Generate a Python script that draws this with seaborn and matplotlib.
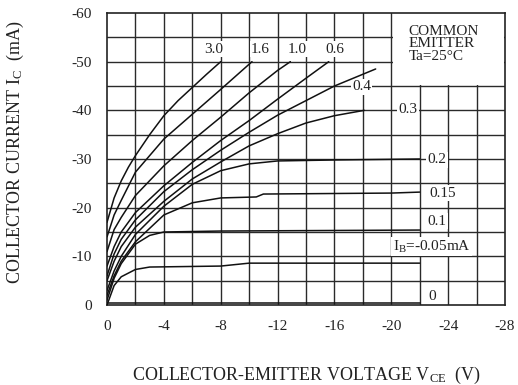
import numpy as np
import pandas as pd
import matplotlib
matplotlib.use("Agg")
import matplotlib.pyplot as plt
import seaborn as sns
from matplotlib.patches import Rectangle

# curves: base current I_B (mA) -> V_CE / I_C points
vce_30 = [0, -0.5, -1, -1.5, -2, -3, -4, -5, -6, -7, -8]
ic_30 = [-17, -22, -25.5, -28.3, -30.7, -35, -38.9, -42, -44.7, -47.4, -50]
vce_16 = [0, -0.5, -1, -2, -4, -6, -8, -10.2]
ic_16 = [-14, -18.5, -21.5, -27.3, -34.1, -39.2, -44.3, -50]
vce_10 = [0, -0.5, -1, -2, -4, -6, -8, -10, -12, -12.9]
ic_10 = [-11, -15.5, -18, -22.5, -28.6, -33.8, -38.6, -43.6, -48.2, -50]
vce_06 = [0, -0.5, -1, -2, -4, -6, -8, -10, -12, -14, -15.6]
ic_06 = [-8, -12, -15, -19, -24.5, -29.3, -33.8, -37.9, -42.3, -46.6, -50]
vce_04 = [0, -0.5, -1, -2, -4, -6, -8, -10, -12, -14, -16, -18.9]
ic_04 = [-6, -10.5, -13.5, -17.5, -23.3, -27.8, -31.8, -35.5, -39, -42, -45, -48.5]
vce_03 = [0, -0.5, -1, -2, -4, -6, -8, -10, -12, -14, -16, -18.1]
ic_03 = [-5, -9, -12, -16, -21.3, -25.9, -29.4, -32.7, -35.2, -37.4, -38.9, -40]
vce_02 = [0, -0.5, -1, -2, -4, -6, -8, -10, -12, -16, -22]
ic_02 = [-3, -7, -10, -14.5, -20.3, -24.8, -27.6, -29, -29.6, -29.8, -30]
vce_015 = [0, -0.5, -1, -2, -4, -6, -8, -10.5, -11, -20, -22]
ic_015 = [-2, -6, -9, -13, -18.5, -21, -22, -22.2, -22.8, -23, -23.2]
vce_01 = [0, -0.5, -1, -2, -3, -4, -8, -22]
ic_01 = [-1, -5.5, -8.5, -12.5, -14.3, -15, -15.2, -15.4]
vce_005 = [0, -0.5, -1, -2, -3, -8, -10, -22]
ic_005 = [0, -4, -5.8, -7.3, -7.8, -8, -8.6, -8.6]
vce_0 = [0, -22]
ic_0 = [-0.4, -0.4]

ib_labels = ["3.0", "1.6", "1.0", "0.6", "0.4", "0.3", "0.2", "0.15", "0.1", "I$_B$=-0.05mA", "0"]
label_x = [-7.5, -10.8, -13.4, -16.0, -17.9, -21.2, -23.2, -23.6, -23.2, -20.1, -22.9]
label_y = [-52.6, -52.6, -52.6, -52.6, -44.8, -40.2, -29.8, -23.0, -17.2, -12.0, -1.8]

x_major = list(range(0, -29, -4))
y_major = list(range(0, -61, -10))

curves = [(vce_30, ic_30), (vce_16, ic_16), (vce_10, ic_10), (vce_06, ic_06),
          (vce_04, ic_04), (vce_03, ic_03), (vce_02, ic_02), (vce_015, ic_015),
          (vce_01, ic_01), (vce_005, ic_005), (vce_0, ic_0)]

rows = []
for k, (xs, ys) in enumerate(curves):
    for i, (a, b) in enumerate(zip(xs, ys)):
        rows.append({"curve": k, "order": i, "vce": a, "ic": b})
df = pd.DataFrame(rows)

sns.set_style("white")
plt.rcParams["font.family"] = ["Liberation Serif", "DejaVu Serif"]
plt.rcParams["mathtext.fontset"] = "custom"
plt.rcParams["mathtext.rm"] = "Liberation Serif"
plt.rcParams["mathtext.it"] = "Liberation Serif"
plt.rcParams["mathtext.default"] = "regular"
plt.rcParams["axes.unicode_minus"] = False

fig = plt.figure(figsize=(5.18, 3.85), dpi=100)
ax = fig.add_axes([0.2066, 0.2078, 0.7683, 0.7584])

sns.lineplot(data=df, x="vce", y="ic", units="curve", estimator=None, sort=False,
             color="#111111", linewidth=1.1, ax=ax, zorder=3)

ax.set_xlim(0, -28)
ax.set_ylim(0, -60)
ax.set_xticks(x_major)
ax.set_yticks(y_major)
ax.set_xticklabels([str(v) for v in x_major])
ax.set_yticklabels([str(v) for v in y_major])

# grid: every 2 V and every 5 mA
for gx in np.arange(-2, -28, -2):
    ax.axvline(gx, color="#2a2a2a", linewidth=1.0, zorder=0.5)
for gy in np.arange(-5, -60, -5):
    ax.axhline(gy, color="#2a2a2a", linewidth=1.0, zorder=0.5)

ax.tick_params(which="both", length=0, labelsize=11, colors="#222222")
ax.tick_params(axis="x", pad=11)
ax.tick_params(axis="y", pad=11)
for s in ax.spines.values():
    s.set_color("#222222")
    s.set_linewidth(1.2)

# blank box holding the test condition
ax.add_patch(Rectangle((-20.15, -45.2), -7.8, -14.75, facecolor="white",
                       edgecolor="none", zorder=1))
ax.text(-21.2, -57.6, "COMMON\nEMITTER\nTa=25\u00b0C", fontsize=11, va="top",
        ha="left", linespacing=0.95, color="#222222", zorder=2)

for lab, lx, ly in zip(ib_labels, label_x, label_y):
    ha = "left" if lab.startswith("I") else "center"
    ax.text(lx, ly, lab, fontsize=11, ha=ha, va="center", color="#222222", zorder=2,
            bbox=dict(facecolor="white", edgecolor="none", pad=1.0))

ax.set_xlabel("COLLECTOR-EMITTER VOLTAGE V$_{CE}$  (V)", fontsize=13, color="#222222")
ax.set_ylabel("COLLECTOR CURRENT I$_C$  (mA)", fontsize=13, color="#222222")
ax.xaxis.set_label_coords(0.5, -0.205)
ax.yaxis.set_label_coords(-0.203, 0.524)

fig.savefig("out.png", dpi=100)
